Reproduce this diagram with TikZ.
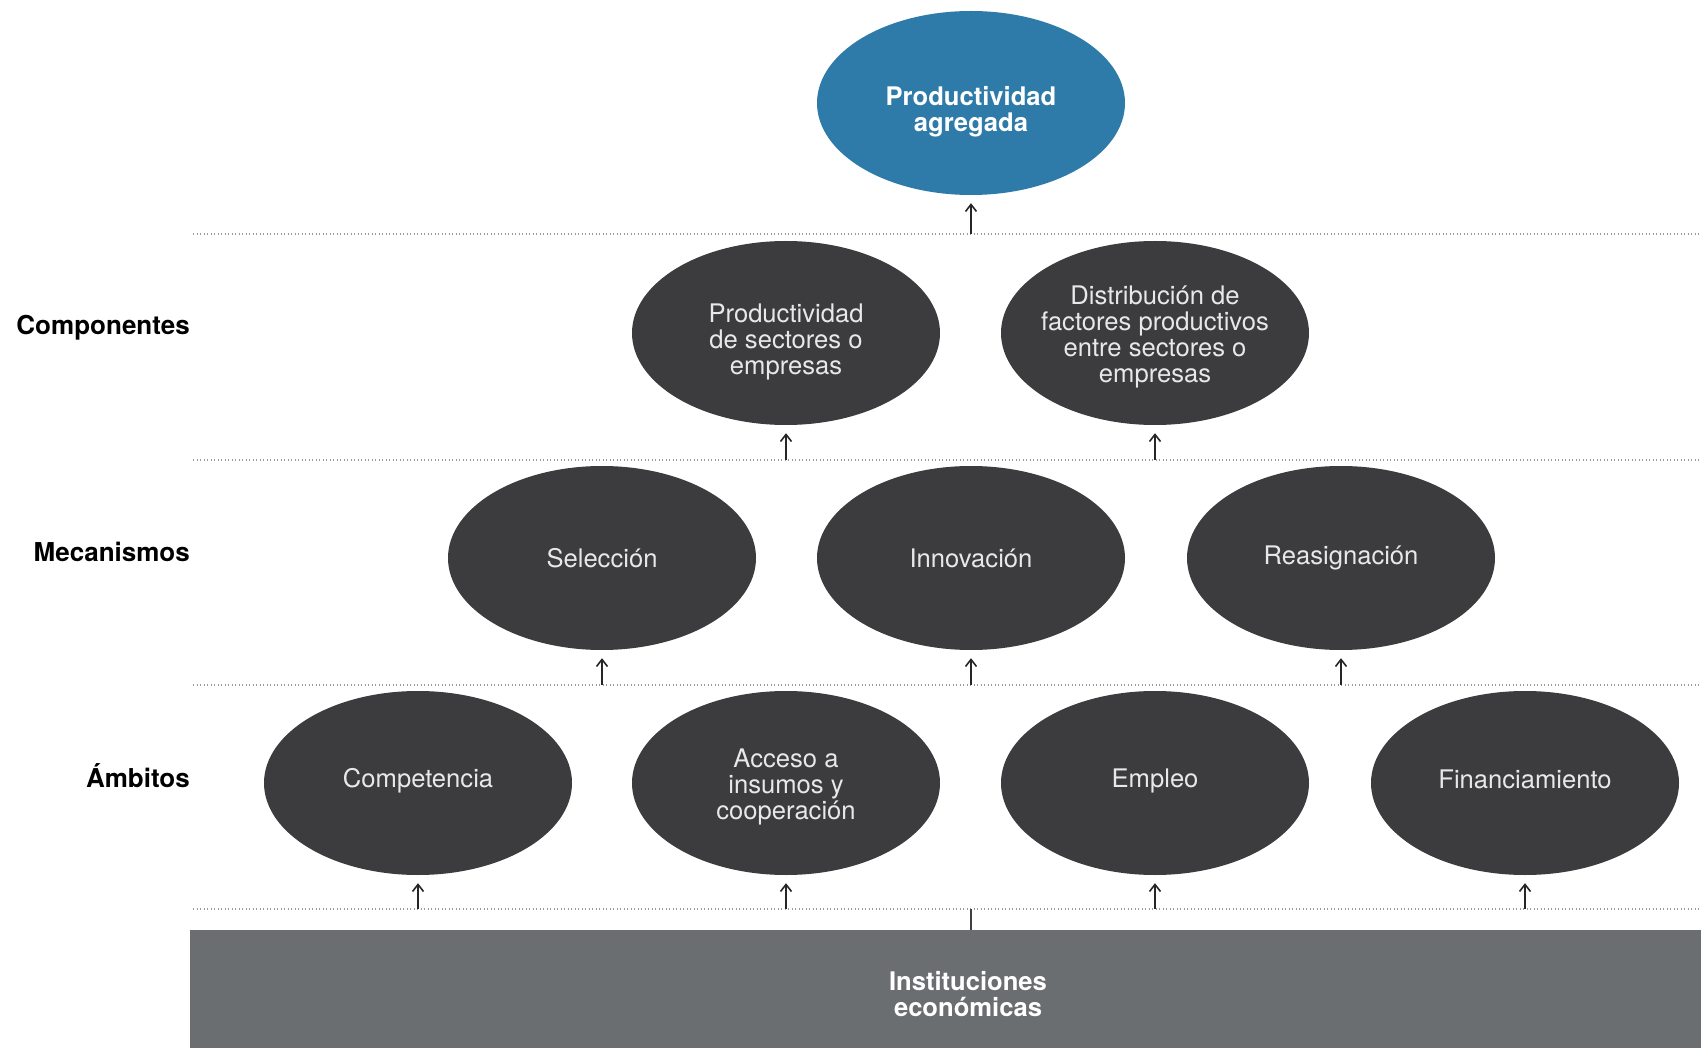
\documentclass[tikz,border=0pt]{standalone}
\usepackage{fontspec}
\setmainfont{TeX Gyre Heros}
\usetikzlibrary{shapes.geometric,arrows.meta}
\definecolor{topblue}{HTML}{2E7BAA}
\definecolor{darkell}{HTML}{3C3C3E}
\definecolor{barg}{HTML}{6B6E71}
\definecolor{dotg}{HTML}{9A9A9A}
\definecolor{elltxt}{HTML}{E8E8E8}
\tikzset{
  ell/.style={ellipse, fill=darkell, draw=none, minimum width=308, minimum height=184, inner sep=0pt},
  topell/.style={ell, fill=topblue},
  etxt/.style={inner sep=0pt, align=center, text=elltxt, font=\fontsize{25.6}{26}\selectfont},
  toptxt/.style={etxt, text=white, font=\bfseries\fontsize{25.6}{26}\selectfont},
  rowlabel/.style={anchor=east, inner sep=0pt, font=\bfseries\fontsize{26}{28}\selectfont, text=black},
  dotline/.style={draw=dotg, line width=1.2pt, dash pattern=on 1.2pt off 2.3pt},
  arr/.style={draw=black!85, line width=1.6pt, -{Straight Barb[length=7pt,width=11pt,line width=1.6pt]}, shorten >=8pt},
}
\begin{document}
\begin{tikzpicture}[x=1pt,y=-1pt]
\useasboundingbox (0,0) rectangle (1701,1048);
% dotted lines
\coordinate (l1a) at (193,234); \coordinate (l1b) at (1701,234);
\coordinate (l2a) at (193,460); \coordinate (l2b) at (1701,460);
\coordinate (l3a) at (193,685); \coordinate (l3b) at (1701,685);
\coordinate (l4a) at (193,909); \coordinate (l4b) at (1701,909);
\foreach \l in {1,2,3,4} \draw[dotline] (l\l a) -- (l\l b);
% bar
\node[fill=barg, minimum width=1511, minimum height=118, inner sep=0pt, anchor=north west] (inst) at (190,930) {};
\node[toptxt] (insttxt) at (968,994) {Instituciones\\económicas};
% ellipses
\node[topell] (top) at (971,103) {};
\node[ell] (c1) at (786,333) {};
\node[ell] (c2) at (1155,333) {};
\node[ell] (m1) at (602,558) {};
\node[ell] (m2) at (971,558) {};
\node[ell] (m3) at (1341,558) {};
\node[ell] (a1) at (418,783) {};
\node[ell] (a2) at (786,783) {};
\node[ell] (a3) at (1155,783) {};
\node[ell] (a4) at (1525,783) {};
% ellipse texts
\node[toptxt] (ttop) at ([yshift=-9pt]top.center) {Productividad\\agregada};
\node[etxt] (tc1) at ([yshift=-9pt]c1.center) {Productividad\\de sectores o\\empresas};
\node[etxt] (tc2) at ([yshift=-4pt]c2.center) {Distribución de\\factores productivos\\entre sectores o\\empresas};
\node[etxt] (tm1) at (m1.center) {Selección};
\node[etxt] (tm2) at (m2.center) {Innovación};
\node[etxt] (tm3) at (m3.center) {Reasignación};
\node[etxt] (ta1) at ([yshift=2pt]a1.center) {Competencia};
\node[etxt] (ta2) at ([yshift=-4pt]a2.center) {Acceso a\\insumos y\\cooperación};
\node[etxt] (ta3) at ([yshift=2pt]a3.center) {Empleo};
\node[etxt] (ta4) at ([yshift=4pt]a4.center) {Financiamiento};
% row labels
\node[rowlabel] (lc) at (190,328) {Componentes};
\node[rowlabel] (lm) at (190,552) {Mecanismos};
\node[rowlabel] (la) at (190,776) {Ámbitos};
% arrow starts on dotted lines
\coordinate (s0) at (top |- l1a);
\coordinate (s1) at (c1 |- l2a); \coordinate (s2) at (c2 |- l2a);
\coordinate (s3) at (m1 |- l3a); \coordinate (s4) at (m2 |- l3a); \coordinate (s5) at (m3 |- l3a);
\coordinate (s6) at (a1 |- l4a); \coordinate (s7) at (a2 |- l4a); \coordinate (s8) at (a3 |- l4a); \coordinate (s9) at (a4 |- l4a);
\draw[arr] (s0) -- (top.south);
\draw[arr] (s1) -- (c1.south);
\draw[arr] (s2) -- (c2.south);
\draw[arr] (s3) -- (m1.south);
\draw[arr] (s4) -- (m2.south);
\draw[arr] (s5) -- (m3.south);
\draw[arr] (s6) -- (a1.south);
\draw[arr] (s7) -- (a2.south);
\draw[arr] (s8) -- (a3.south);
\draw[arr] (s9) -- (a4.south);
\coordinate (sb) at (inst.north -| top);
\draw[draw=black!75, line width=1.6pt] (sb) -- (sb |- l4a);
\end{tikzpicture}
\end{document}
